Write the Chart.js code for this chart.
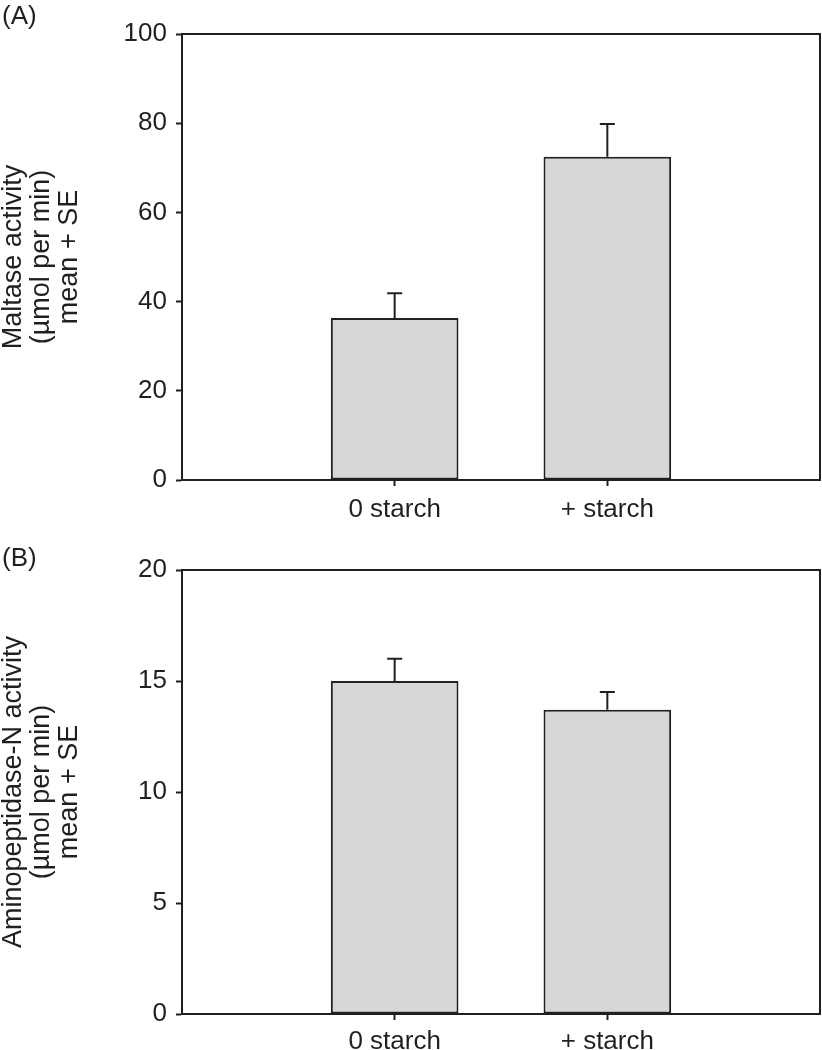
<!DOCTYPE html>
<html>
<head>
<meta charset="utf-8">
<script src="https://cdn.jsdelivr.net/npm/chart.js@4.4.1/dist/chart.umd.min.js"></script>
<style>
  html, body { margin: 0; padding: 0; background: #fff; }
  #wrap { position: relative; width: 822px; height: 1050px; font-family: 'Liberation Sans', Arial, sans-serif; color: #231f20; }
  .panel { position: absolute; left: 0; }
  .tag { position: absolute; left: 2px; font-size: 26px; line-height: 26px; z-index: 2; }
</style>
</head>
<body>
<div id="wrap">
  <canvas id="cA" class="panel" style="top:0" width="822" height="530"></canvas>
  <canvas id="cB" class="panel" style="top:530px" width="822" height="520"></canvas>
  <div class="tag" style="top:2px">(A)</div>
  <div class="tag" style="top:544px">(B)</div>
</div>
<script>
// data
const groups = ['0 starch', '+ starch'];
const groupPos = [1, 2];
const maltaseMean = [36.3, 72.5];
const maltaseSE = [5.6, 7.3];
const apnMean = [15.0, 13.7];
const apnSE = [1.0, 0.8];

const INK = '#231f20';
const FONT = "'Liberation Sans', Arial, sans-serif";

function mkPanel(id, mean, se, yMax, yStep, title, padTop, axisH, labPad) {
  // upper SE whiskers + top/right frame lines
  const extras = {
    id: 'extras',
    afterDatasetsDraw(chart) {
      const { ctx, chartArea: a, scales: { x, y } } = chart;
      ctx.save();
      ctx.strokeStyle = INK;
      ctx.lineWidth = 2;
      mean.forEach((m, i) => {
        const px = x.getPixelForValue(groupPos[i]);
        const y0 = y.getPixelForValue(m), y1 = y.getPixelForValue(m + se[i]);
        ctx.beginPath();
        ctx.moveTo(px, y0); ctx.lineTo(px, y1);
        ctx.moveTo(px - 7.5, y1); ctx.lineTo(px + 7.5, y1);
        ctx.stroke();
      });
      ctx.beginPath();
      ctx.moveTo(a.left, a.top); ctx.lineTo(a.right, a.top); ctx.lineTo(a.right, a.bottom);
      ctx.stroke();
      ctx.restore();
    }
  };

  const grid = { drawOnChartArea: false, drawTicks: true, tickLength: 6, tickColor: INK, tickWidth: 2, offset: false };
  const border = { color: INK, width: 2 };

  return new Chart(document.getElementById(id), {
    type: 'bar',
    data: {
      datasets: [{
        data: mean.map((m, i) => ({ x: groupPos[i], y: m })),
        backgroundColor: '#d6d7d9',
        borderColor: INK,
        borderWidth: 2,
        borderSkipped: false,
        categoryPercentage: 1,
        barPercentage: 0.6,
      }]
    },
    options: {
      responsive: false, animation: false, devicePixelRatio: 1,
      layout: { padding: { top: padTop, right: 2, left: 0, bottom: 0 } },
      plugins: { legend: { display: false }, tooltip: { enabled: false } },
      scales: {
        x: {
          type: 'linear', min: 0, max: 3, offset: false,
          afterBuildTicks: s => { s.ticks = groupPos.map(v => ({ value: v })); },
          afterFit: s => { s.height = axisH; },
          grid, border,
          ticks: { color: INK, font: { family: FONT, size: 26 }, padding: labPad, autoSkip: false, maxRotation: 0,
                   callback: (v, i) => groups[i] }
        },
        y: {
          min: 0, max: yMax,
          afterFit: s => { s.width = 182; },
          grid, border,
          ticks: { stepSize: yStep, color: INK, font: { family: FONT, size: 26 }, padding: 9 },
          title: { display: true, text: title, color: INK, padding: 0,
                   font: { family: FONT, size: 27, lineHeight: '28px' } }
        }
      }
    },
    plugins: [extras]
  });
}

mkPanel('cA', maltaseMean, maltaseSE, 100, 20,
  ['Maltase activity', '(µmol per min)', 'mean + SE'], 34, 50, 8);
mkPanel('cB', apnMean, apnSE, 20, 5,
  ['Aminopeptidase-N activity', '(µmol per min)', 'mean + SE'], 40, 36, 6);
</script>
</body>
</html>
